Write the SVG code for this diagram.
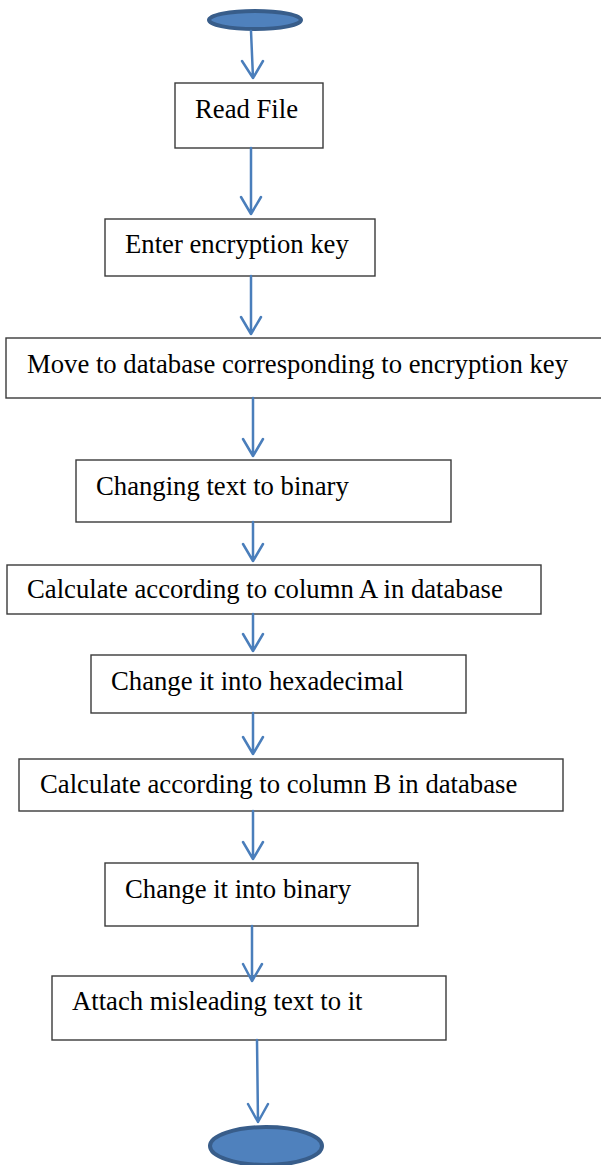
<svg xmlns="http://www.w3.org/2000/svg" width="601" height="1165" viewBox="0 0 601 1165">
  <style>
    .box { fill: #ffffff; stroke: #3a3a3a; stroke-width: 1.4; }
    .lbl { font-family: "Liberation Serif", "Times New Roman", serif; font-size: 26.7px; fill: #000; }
    .term { fill: #4f81bd; stroke: #385d8a; stroke-width: 4; }
    .flow { fill: none; stroke: #4a7ebb; stroke-width: 2.5; stroke-linecap: round; stroke-linejoin: round; }
  </style>
  <rect width="601" height="1165" fill="#ffffff"/>

  <g id="start"><ellipse class="term" cx="255" cy="20" rx="46" ry="9"/></g>

  <g id="read-file"><rect class="box" x="175" y="83" width="148" height="65"/><text class="lbl" x="195" y="118">Read File</text></g>
  <g id="enter-key"><rect class="box" x="105" y="219" width="270" height="57"/><text class="lbl" x="125" y="253">Enter encryption key</text></g>
  <g id="move-db"><rect class="box" x="6" y="338" width="600" height="60"/><text class="lbl" x="27" y="373">Move to database corresponding to encryption key</text></g>
  <g id="to-binary"><rect class="box" x="76" y="460" width="375" height="62"/><text class="lbl" x="96" y="495">Changing text to binary</text></g>
  <g id="calc-a"><rect class="box" x="7" y="565" width="534" height="49"/><text class="lbl" x="27" y="598">Calculate according to column A in database</text></g>
  <g id="to-hex"><rect class="box" x="91" y="655" width="375" height="58"/><text class="lbl" x="111" y="690">Change it into hexadecimal</text></g>
  <g id="calc-b"><rect class="box" x="19" y="759" width="544" height="52"/><text class="lbl" x="40" y="793">Calculate according to column B in database</text></g>
  <g id="back-binary"><rect class="box" x="105" y="863" width="313" height="63"/><text class="lbl" x="125" y="898">Change it into binary</text></g>
  <g id="attach-text"><rect class="box" x="52" y="976" width="394" height="64"/><text class="lbl" x="72" y="1010">Attach misleading text to it</text></g>

  <g id="end"><ellipse class="term" cx="266" cy="1146" rx="56" ry="19"/></g>

  <g id="connectors">
    <path class="flow" d="M251 31 L253 78 M242 61 L253 78 L263 61"/>
    <path class="flow" d="M251 148 L251 214 M241 197 L251 214 L261 197"/>
    <path class="flow" d="M251 276 L251 334 M241 317 L251 334 L261 317"/>
    <path class="flow" d="M253 398 L253 456 M243 439 L253 456 L263 439"/>
    <path class="flow" d="M253 522 L253 561 M243 544 L253 561 L263 544"/>
    <path class="flow" d="M253 614 L253 651 M243 634 L253 651 L263 634"/>
    <path class="flow" d="M253 713 L253 754 M243 737 L253 754 L263 737"/>
    <path class="flow" d="M253 811 L253 859 M243 842 L253 859 L263 842"/>
    <path class="flow" d="M252 926 L252 981 M243 964 L252 981 L262 964"/>
    <path class="flow" d="M257 1040 L258 1122 M248 1104 L258 1122 L268 1104"/>
  </g>
</svg>
